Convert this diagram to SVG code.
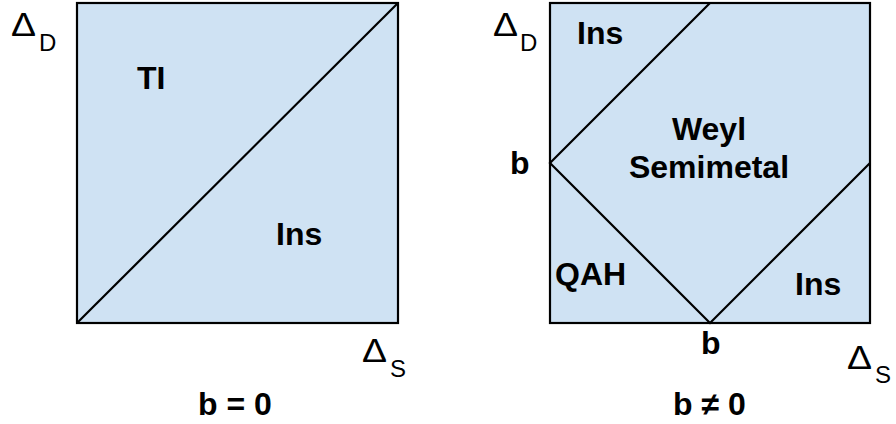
<svg xmlns="http://www.w3.org/2000/svg" width="896" height="424" viewBox="0 0 896 424">
<style>
.box{fill:#cfe2f3;stroke:#000;stroke-width:2.2}
.ln{stroke:#000;stroke-width:2.2;fill:none}
.lb{font-family:"Liberation Sans",Arial,sans-serif;font-weight:bold;font-size:32px;fill:#000}
.ax{font-family:"Liberation Sans",Arial,sans-serif;font-size:34px;fill:#000}
.sub{font-family:"Liberation Sans",Arial,sans-serif;font-size:24px;fill:#000}
</style>
<rect width="896" height="424" fill="#fff"/>
<g id="panel-left">
<rect class="box" x="77" y="3" width="321" height="320"/>
</g>
<g id="panel-right">
<rect class="box" x="550" y="3" width="320" height="320"/>
</g>
<g id="connectors">
<line class="ln" x1="77" y1="323" x2="398" y2="3"/>
<polyline class="ln" points="710,3 550,163 710,323 870,163"/>
</g>
<g id="labels-left">
<text class="ax" x="11" y="36" textLength="25" lengthAdjust="spacingAndGlyphs">Δ</text><text class="sub" x="39" y="51">D</text>
<text class="ax" x="362" y="362" textLength="25" lengthAdjust="spacingAndGlyphs">Δ</text><text class="sub" x="390" y="377">S</text>
<text class="lb" x="137" y="89">TI</text>
<text class="lb" x="276" y="245">Ins</text>
<text class="lb" x="198" y="415">b = 0</text>
</g>
<g id="labels-right">
<text class="ax" x="493" y="36" textLength="25" lengthAdjust="spacingAndGlyphs">Δ</text><text class="sub" x="520" y="51">D</text>
<text class="ax" x="847" y="369" textLength="25" lengthAdjust="spacingAndGlyphs">Δ</text><text class="sub" x="875" y="383">S</text>
<text class="lb" x="577" y="44">Ins</text>
<text class="lb" x="709" y="140" text-anchor="middle">Weyl</text>
<text class="lb" x="709" y="178" text-anchor="middle">Semimetal</text>
<text class="lb" x="510" y="174">b</text>
<text class="lb" x="555" y="285">QAH</text>
<text class="lb" x="795" y="295">Ins</text>
<text class="lb" x="701" y="354">b</text>
<text class="lb" x="673" y="415">b ≠ 0</text>
</g>
</svg>
